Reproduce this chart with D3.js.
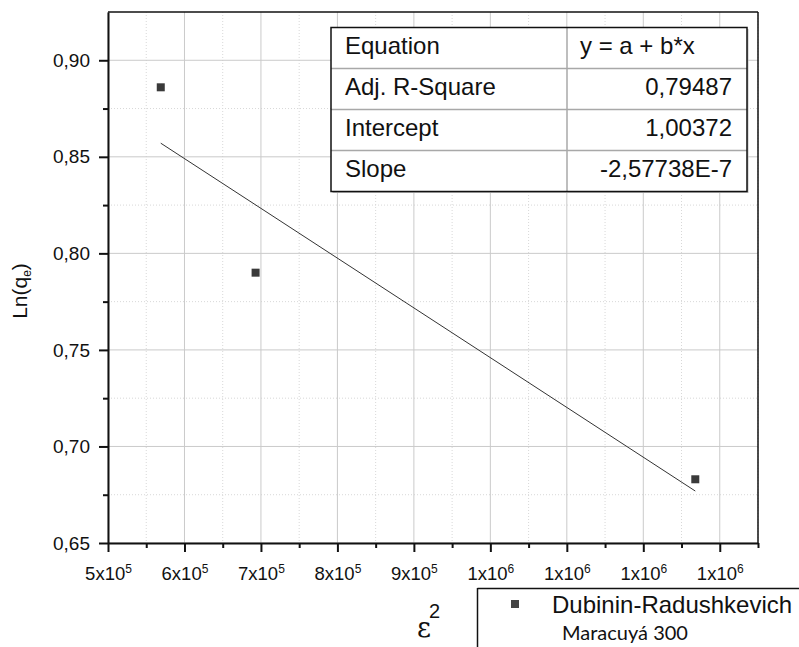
<!DOCTYPE html>
<html>
<head>
<meta charset="utf-8">
<script src="https://cdn.jsdelivr.net/npm/d3@7"></script>
<style>
  html, body { margin: 0; padding: 0; background: #fff; }
  svg { display: block; }
  text { font-family: Arial, "Liberation Sans", sans-serif; fill: #111; }
</style>
</head>
<body>
<svg id="chart" width="799" height="647"></svg>
<script>
// Dubinin-Radushkevich isotherm data (ε² vs Ln(qe))
const epsSquared = [569000, 693000, 1268000];
const lnQe = [0.886, 0.790, 0.683];

// Linear fit results y = a + b*x
const fitIntercept = 1.00372;
const fitSlope = -2.57738e-7;

// Fit summary table
const tableLabels = ["Equation", "Adj. R-Square", "Intercept", "Slope"];
const tableValues = ["y = a + b*x", "0,79487", "1,00372", "-2,57738E-7"];

// Axis ticks
const xTickValues = [500000, 600000, 700000, 800000, 900000, 1000000, 1100000, 1200000, 1300000];
const xTickMantissa = ["5", "6", "7", "8", "9", "1", "1", "1", "1"];
const xTickExponent = ["5", "5", "5", "5", "5", "6", "6", "6", "6"];
const yTickValues = [0.65, 0.70, 0.75, 0.80, 0.85, 0.90];
const yTickLabels = ["0,65", "0,70", "0,75", "0,80", "0,85", "0,90"];
const xMinorTicks = [550000, 650000, 750000, 850000, 950000, 1050000, 1150000, 1250000, 1350000];
const yMinorTicks = [0.675, 0.725, 0.775, 0.825, 0.875];

const seriesName = "Dubinin-Radushkevich";
const sampleName = "Maracuyá 300";

const W = 799, H = 647;
const margin = { top: 12, right: 41, bottom: 104, left: 108 };
const innerW = W - margin.left - margin.right;
const innerH = H - margin.top - margin.bottom;

const svg = d3.select("#chart");
const g = svg.append("g").attr("transform", `translate(${margin.left},${margin.top})`);

const x = d3.scaleLinear().domain([500000, 1350000]).range([0, innerW]);
const y = d3.scaleLinear().domain([0.65, 0.925]).range([innerH, 0]);

// Minor grid (dotted)
g.append("g").selectAll("line").data(xMinorTicks).join("line")
  .attr("x1", d => x(d)).attr("x2", d => x(d)).attr("y1", 0).attr("y2", innerH)
  .attr("stroke", "#d8d8d8").attr("stroke-width", 1).attr("stroke-dasharray", "1,2");
g.append("g").selectAll("line").data(yMinorTicks).join("line")
  .attr("x1", 0).attr("x2", innerW).attr("y1", d => y(d)).attr("y2", d => y(d))
  .attr("stroke", "#d8d8d8").attr("stroke-width", 1).attr("stroke-dasharray", "1,2");

// Major grid
g.append("g").selectAll("line").data(xTickValues).join("line")
  .attr("x1", d => x(d)).attr("x2", d => x(d)).attr("y1", 0).attr("y2", innerH)
  .attr("stroke", "#cacaca").attr("stroke-width", 1);
g.append("g").selectAll("line").data(yTickValues).join("line")
  .attr("x1", 0).attr("x2", innerW).attr("y1", d => y(d)).attr("y2", d => y(d))
  .attr("stroke", "#cacaca").attr("stroke-width", 1);

// Fit line across the data range
const xExt = d3.extent(epsSquared);
g.append("line")
  .attr("x1", x(xExt[0])).attr("y1", y(fitIntercept + fitSlope * xExt[0]))
  .attr("x2", x(xExt[1])).attr("y2", y(fitIntercept + fitSlope * xExt[1]))
  .attr("stroke", "#333").attr("stroke-width", 1);

// Data points
const sq = 8;
g.append("g").selectAll("rect").data(epsSquared.map((v, i) => [v, lnQe[i]])).join("rect")
  .attr("x", d => x(d[0]) - sq / 2).attr("y", d => y(d[1]) - sq / 2)
  .attr("width", sq).attr("height", sq).attr("fill", "#3a3a3a");

// Frame: top & right
g.append("line").attr("x1", 0).attr("x2", innerW).attr("y1", 0).attr("y2", 0)
  .attr("stroke", "#111").attr("stroke-width", 1.5);
g.append("line").attr("x1", innerW).attr("x2", innerW).attr("y1", 0).attr("y2", innerH)
  .attr("stroke", "#111").attr("stroke-width", 1.5);

// Bottom axis
const xAxis = g.append("g").attr("transform", `translate(0,${innerH})`)
  .call(d3.axisBottom(x).tickValues(xTickValues).tickSize(9).tickSizeOuter(0)
    .tickFormat(() => ""));
xAxis.attr("font-family", null);
xAxis.select(".domain").attr("stroke", "#111").attr("stroke-width", 2);
xAxis.selectAll(".tick line").attr("stroke", "#111").attr("stroke-width", 2);
xAxis.selectAll(".tick text").each(function (d, i) {
  const t = d3.select(this).attr("y", 0).attr("dy", null)
    .attr("transform", "translate(0,37)")
    .style("font-size", "18.5px").attr("fill", "#111");
  t.text(null);
  t.append("tspan").text(xTickMantissa[i] + "x10");
  t.append("tspan").text(xTickExponent[i]).attr("dy", "-0.55em").style("font-size", "12px");
});
g.append("g").attr("transform", `translate(0,${innerH})`)
  .call(d3.axisBottom(x).tickValues(xMinorTicks).tickSize(5).tickFormat(""))
  .call(s => s.select(".domain").remove())
  .selectAll(".tick line").attr("stroke", "#111").attr("stroke-width", 2);

// Left axis
const yAxis = g.append("g")
  .call(d3.axisLeft(y).tickValues(yTickValues).tickSize(9).tickSizeOuter(0)
    .tickFormat((d, i) => yTickLabels[i]));
yAxis.attr("font-family", null);
yAxis.select(".domain").attr("stroke", "#111").attr("stroke-width", 2);
yAxis.selectAll(".tick line").attr("stroke", "#111").attr("stroke-width", 2);
yAxis.selectAll(".tick text").attr("x", -18).style("font-size", "19px").attr("fill", "#111");
g.append("g")
  .call(d3.axisLeft(y).tickValues(yMinorTicks).tickSize(5).tickFormat(""))
  .call(s => s.select(".domain").remove())
  .selectAll(".tick line").attr("stroke", "#111").attr("stroke-width", 2);

// Axis titles
const yTitle = svg.append("text")
  .attr("transform", "translate(27,291) rotate(-90)")
  .attr("text-anchor", "middle").style("font-size", "21px");
yTitle.append("tspan").text("Ln(q");
yTitle.append("tspan").text("e").style("font-size", "12px").attr("dy", "0.35em");
yTitle.append("tspan").text(")").attr("dy", "-0.2em");

const xTitle = svg.append("text").attr("x", 417).attr("y", 637);
xTitle.append("tspan").text("ε").style("font-family", "'DejaVu Serif', serif").style("font-size", "27px");
xTitle.append("tspan").text("2").style("font-size", "20px").attr("dy", "-19").attr("dx", "-2");

// Fit summary table
const tbl = { x: 331, y: 27.5, w: 416, rowH: 41, col: 236 };
const tg = svg.append("g").attr("transform", `translate(${tbl.x},${tbl.y})`);
const tblH = tbl.rowH * tableLabels.length;
tg.append("rect").attr("x", 1.5).attr("y", 1.5).attr("width", tbl.w).attr("height", tblH)
  .attr("fill", "#bbb");
tg.append("rect").attr("width", tbl.w).attr("height", tblH).attr("fill", "#fff");
tableLabels.forEach((lab, i) => {
  if (i > 0) {
    tg.append("line").attr("x1", 0).attr("x2", tbl.w)
      .attr("y1", i * tbl.rowH).attr("y2", i * tbl.rowH)
      .attr("stroke", "#a8a8a8").attr("stroke-width", 1.5);
  }
  tg.append("text").attr("x", 14).attr("y", i * tbl.rowH + 26)
    .style("font-size", "24px").text(lab);
  const v = tg.append("text").attr("y", i * tbl.rowH + 26).style("font-size", "24px").text(tableValues[i]);
  if (i === 0) v.attr("x", tbl.col + 13);
  else v.attr("x", tbl.w - 15).attr("text-anchor", "end");
});
tg.append("line").attr("x1", tbl.col).attr("x2", tbl.col).attr("y1", 0).attr("y2", tblH)
  .attr("stroke", "#a8a8a8").attr("stroke-width", 1.5);
tg.append("rect").attr("width", tbl.w).attr("height", tblH)
  .attr("fill", "none").attr("stroke", "#111").attr("stroke-width", 1.5);

// Legend box
const lg = svg.append("g");
lg.append("line").attr("x1", 477.5).attr("x2", 477.5).attr("y1", 588).attr("y2", H)
  .attr("stroke", "#111").attr("stroke-width", 1.5);
lg.append("line").attr("x1", 477.5).attr("x2", W).attr("y1", 588.5).attr("y2", 588.5)
  .attr("stroke", "#111").attr("stroke-width", 1.5);
lg.append("rect").attr("x", 511).attr("y", 600).attr("width", 8).attr("height", 8).attr("fill", "#444");
lg.append("text").attr("x", 552).attr("y", 613).style("font-size", "24px").text(seriesName);
lg.append("text").attr("x", 562).attr("y", 640)
  .style("font-family", "Lato, 'Open Sans', sans-serif").style("font-size", "20px").text(sampleName);
</script>
</body>
</html>
